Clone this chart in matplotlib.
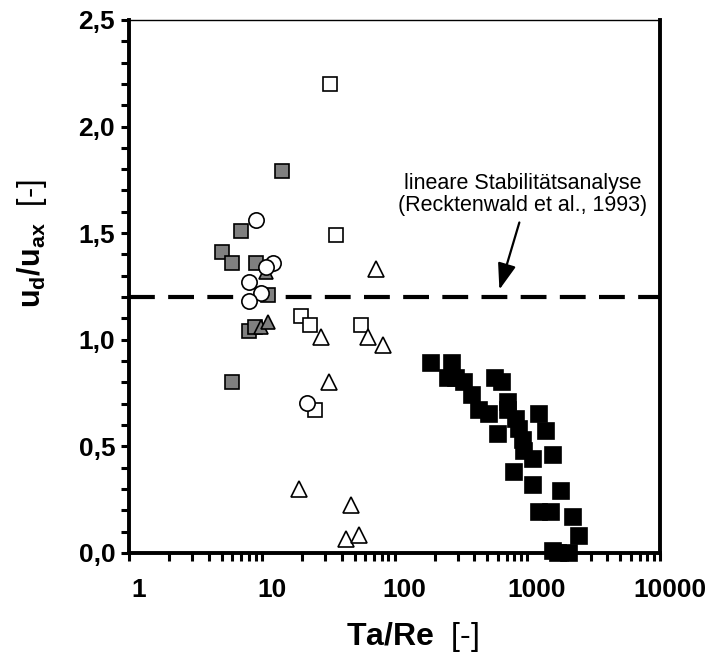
import matplotlib
matplotlib.use("Agg")
import matplotlib.pyplot as plt
import matplotlib.transforms as mtransforms
from matplotlib.ticker import FixedLocator, LogLocator, NullFormatter

plt.rcParams['font.family'] = ['Liberation Sans', 'DejaVu Sans']
plt.rcParams['mathtext.fontset'] = 'custom'
plt.rcParams['mathtext.rm'] = 'Liberation Sans'
plt.rcParams['mathtext.bf'] = 'Liberation Sans:bold'
plt.rcParams['mathtext.it'] = 'Liberation Sans:italic'

# ---- data ----
gray_sq_x = [14.1, 7.0, 5.0, 6.0, 9.0, 11.1, 8.0, 8.9, 6.0]
gray_sq_y = [1.79, 1.51, 1.41, 1.36, 1.36, 1.21, 1.04, 1.06, 0.80]

gray_tri_x = [10.8, 9.8, 11.1]
gray_tri_y = [1.32, 1.06, 1.085]

white_sq_x = [32.4, 36.0, 19.9, 22.9, 56.3, 25.0]
white_sq_y = [2.20, 1.49, 1.11, 1.07, 1.07, 0.67]

white_tri_x = [72.9, 28.0, 63.0, 81.5, 32.1, 19.1, 47.1, 43.1, 53.5]
white_tri_y = [1.33, 1.015, 1.015, 0.976, 0.80, 0.30, 0.225, 0.064, 0.084]

circle_x = [9.1, 12.2, 10.8, 8.0, 9.9, 8.0, 22.0]
circle_y = [1.56, 1.36, 1.34, 1.27, 1.22, 1.18, 0.705]

black_x = [189, 270, 252, 291, 336, 384, 430, 518, 575, 645, 711, 711, 598, 822,
           871, 922, 949, 1096, 798, 1231, 1383, 1550, 1096, 1792, 1231, 1507,
           2191, 2431, 1550, 1700, 2050]
black_y = [0.89, 0.89, 0.82, 0.82, 0.80, 0.74, 0.67, 0.65, 0.82, 0.80, 0.71, 0.67,
           0.56, 0.63, 0.58, 0.53, 0.48, 0.44, 0.38, 0.65, 0.57, 0.46, 0.32, 0.29,
           0.19, 0.19, 0.17, 0.08, 0.01, 0.0, 0.0]

stability_limit = 1.2
y_ticks = [0.0, 0.5, 1.0, 1.5, 2.0, 2.5]
y_ticklabels = ['0,0', '0,5', '1,0', '1,5', '2,0', '2,5']
x_ticks = [1, 10, 100, 1000, 10000]
x_ticklabels = ['1', '10', '100', '1000', '10000']

annot_text = 'lineare Stabilitätsanalyse\n(Recktenwald et al., 1993)'
annot_text_pos = (920, 1.68)
arrow_tail = (871, 1.55)
arrow_tip = (616, 1.235)

# ---- figure ----
fig = plt.figure(figsize=(7.17, 6.64), dpi=100)
ax = fig.add_axes([0.180, 0.1672, 0.7406, 0.8028])

ax.set_xscale('log')
ax.set_xlim(1, 10000)
ax.set_ylim(0, 2.5)

ax.axhline(stability_limit, color='black', lw=3.0, dashes=(6.2, 3.2), zorder=1)

mew = 1.2
ax.plot(black_x, black_y, 's', ms=11.5, mfc='black', mec='black', mew=mew, zorder=3, clip_on=False)
ax.plot(gray_sq_x, gray_sq_y, 's', ms=10.5, mfc='#808080', mec='black', mew=mew, zorder=3)
ax.plot(gray_tri_x, gray_tri_y, '^', ms=10.5, mfc='#808080', mec='black', mew=mew, zorder=3)
ax.plot(white_sq_x, white_sq_y, 's', ms=10.5, mfc='white', mec='black', mew=mew, zorder=4)
ax.plot(white_tri_x, white_tri_y, '^', ms=11, mfc='white', mec='black', mew=mew, zorder=4)
ax.plot(circle_x, circle_y, 'o', ms=11, mfc='white', mec='black', mew=mew, zorder=5)

ax.text(annot_text_pos[0], annot_text_pos[1], annot_text, ha='center', va='center',
        fontsize=15.5, linespacing=1.05)
ax.annotate('', xy=arrow_tip, xytext=arrow_tail,
            arrowprops=dict(arrowstyle='-|>,head_length=0.8,head_width=0.28',
                            mutation_scale=20, lw=1.6, color='black', shrinkA=0, shrinkB=0))

# ticks
ax.set_xticks(x_ticks)
ax.set_xticklabels(x_ticklabels, fontsize=19, fontweight='bold')
ax.xaxis.set_minor_locator(LogLocator(base=10, subs=range(2, 10)))
ax.xaxis.set_minor_formatter(NullFormatter())
ax.set_yticks(y_ticks)
ax.set_yticklabels(y_ticklabels, fontsize=19, fontweight='bold')
ax.yaxis.set_minor_locator(FixedLocator([i / 10 for i in range(26)]))

ax.tick_params(which='both', direction='out', width=2.2, color='black')
ax.tick_params(which='major', length=6, pad=4)
ax.tick_params(which='minor', length=5.5)
ax.tick_params(axis='x', which='major', pad=12)

offset = mtransforms.ScaledTranslation(7 / 72, 0, fig.dpi_scale_trans)
for lbl in ax.get_xticklabels():
    lbl.set_transform(lbl.get_transform() + offset)

for side in ['left', 'bottom', 'right']:
    ax.spines[side].set_linewidth(2.8)
ax.spines['top'].set_linewidth(1.0)

ax.set_xlabel(r'$\mathbf{Ta/Re}$  [-]', fontsize=23)
ax.xaxis.set_label_coords(0.533, -0.125)
ax.set_ylabel(r'$\mathbf{u_d/u_{ax}}$  [-]', fontsize=22)
ax.yaxis.set_label_coords(-0.15, 0.58)

fig.savefig('out.png', dpi=100)
